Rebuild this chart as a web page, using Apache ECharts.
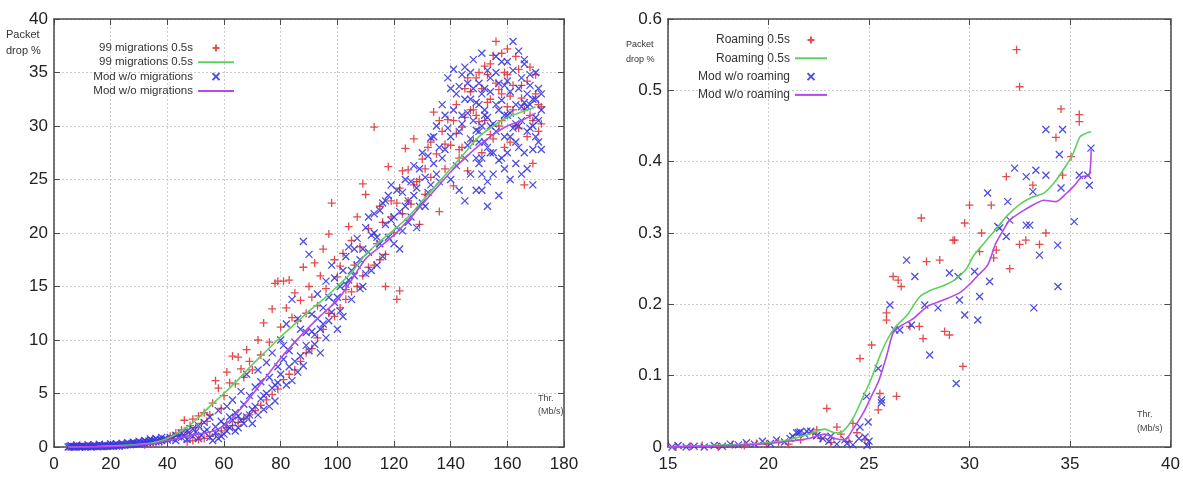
<!DOCTYPE html>
<html><head><meta charset="utf-8">
<script src="https://cdn.jsdelivr.net/npm/echarts/dist/echarts.min.js"></script>
<style>html,body{margin:0;padding:0;background:#fff}#c{width:1183px;height:481px}</style>
</head><body><div id="c"></div><script>
// ---------- Left panel data ----------
const leftXTicks = [0, 180, 20];
const leftYTicks = [0, 40, 5];
const leftRedPoints = [
[6,0.02],[8,0.05],[10,0.03],[12,0.08],[14,0.05],[16,0.1],[18,0.06],[20,0.12],[22,0.15],[24,0.1],[26,0.2],[28,0.25],[30,0.3],[32,0.22],[34,0.4],[36,0.35],[38,0.5],[40,0.7],[41,1.0],[42,0.8],[43,1.3],[44,1.1],[45,1.6],[46,2.5],[47,1.4],[48,2.0],[49,2.6],[50,1.8],[51,2.9],[52,2.2],[53,3.2],[54,2.4],[55,3.0],[56,4.1],[57,6.2],[58,5.5],[59,3.6],[60,4.8],[61,7.0],[62,6.0],[63,8.5],[64,5.9],[65,8.4],[66,7.3],[67,6.5],[68,9.1],[69,8.0],[70,7.2],[72,10.0],[73,8.6],[74,11.6],[76,9.8],[77,12.9],[78,15.3],[79,15.5],[80,11.2],[81,15.5],[82,13.0],[83,15.6],[84,12.1],[85,14.4],[86,11.8],[87,13.7],[88,16.8],[89,12.5],[90,15.0],[91,14.0],[92,17.2],[93,13.2],[94,16.0],[95,18.5],[96,14.8],[97,19.9],[98,22.8],[99,17.5],[100,15.9],[101,16.9],[102,18.1],[103,14.7],[104,20.6],[105,19.3],[106,17.0],[107,21.5],[108,18.7],[109,24.6],[110,23.6],[111,20.4],[113,29.9],[114,19.0],[115,22.5],[116,21.0],[117,15.0],[118,26.2],[119,23.0],[120,20.0],[121,13.8],[122,14.6],[122,24.2],[123,21.8],[124,27.9],[125,25.9],[126,22.7],[127,28.8],[128,24.8],[129,20.8],[130,26.9],[131,23.6],[132,28.0],[133,25.2],[134,31.3],[135,27.4],[136,22.0],[137,29.5],[138,26.0],[139,30.6],[140,28.2],[141,24.4],[142,32.0],[143,27.0],[144,29.9],[145,33.5],[146,25.8],[147,31.5],[148,28.6],[149,34.5],[150,30.4],[151,27.5],[152,35.6],[153,32.2],[154,29.2],[155,36.6],[156,37.9],[157,33.4],[158,30.5],[159,35.0],[160,31.8],[161,28.5],[162,33.8],[163,30.0],[164,35.3],[165,32.6],[166,24.5],[167,34.2],[168,31.0],[169,26.5],[170,33.0],[171,29.5],[172,31.8],
[141,30.5],[143,27.8],[145,30.8],[147,33.2],[149,31.0],[151,33.5],[152,30.5],[153,34.8],[154,32.5],[155,28.8],[156,34.0],[157,30.0],[158,33.0],[159,28.0],[160,34.8],[161,32.8],[162,31.5],[163,36.5],[164,29.8],[165,33.8],[166,31.5],[167,29.0],[168,35.5],[169,30.5],[170,34.8],[171,32.0],[172,30.2],[160,37.2],[158,36.8],[154,35.8],[150,35.0],[146,34.5],[148,31.5],[144,28.0],[142,29.3],[138,28.3],[136,30.5],[133,28.5],[131,26.0],[129,25.0],[127,24.5],[125,23.0],[123,25.8],[121,22.8],[119,21.5],[117,18.0],[115,17.5],[113,17.0],[111,16.8],[109,16.0],[107,15.0],[105,14.5],[103,13.8],[101,13.0],[99,12.2],[97,12.5],[95,11.0],[93,10.2],[91,9.2],[89,8.8],[87,8.0],[85,7.2],[83,6.8],[81,6.3],[79,5.4],[77,4.9],[75,4.4],[73,3.9],[71,3.4],[69,3.0],[67,2.6],[65,2.3],[63,2.0],[61,1.8],[59,1.5],[57,1.2],[55,1.0],[53,0.8],[51,0.7],[49,0.6],[47,0.5]
];
const leftGreenLine = [
[5,0],[15,0.05],[25,0.15],[35,0.4],[40,0.8],[45,1.5],[50,2.5],[55,3.8],[60,5.0],[65,6.3],[70,7.7],[75,9.0],[80,10.3],[85,11.5],[90,12.7],[95,13.8],[100,15.0],[105,16.3],[110,18.0],[115,19.2],[120,20.3],[125,21.5],[130,23.0],[135,24.5],[140,26.0],[145,27.5],[150,29.0],[155,30.0],[160,30.8],[165,31.3],[170,31.8]
];
const leftBluePoints = [
[5,0],[5.5,0.05],[6,0],[6.5,0.02],[7,0.05],[7.5,0],[8,0.03],[8.5,0.06],[9,0],[9.5,0.04],[10,0.02],[10.5,0.07],[11,0],[11.5,0.05],[12,0.03],[12.5,0.08],[13,0.02],[13.5,0.06],[14,0.04],[14.5,0.1],[15,0.05],[15.5,0.02],[16,0.08],[16.5,0.05],[17,0.1],[17.5,0.04],[18,0.12],[18.5,0.07],[19,0.1],[19.5,0.14],[20,0.06],[20.5,0.12],[21,0.09],[21.5,0.15],[22,0.1],[22.5,0.18],[23,0.12],[23.5,0.2],[24,0.15],[24.5,0.22],[25,0.18],[25.5,0.25],[26,0.2],[26.5,0.28],[27,0.22],[27.5,0.3],[28,0.26],[28.5,0.35],[29,0.3],[29.5,0.38],[30,0.28],[30.5,0.42],[31,0.35],[31.5,0.45],[32,0.38],[32.5,0.5],[33,0.42],[33.5,0.55],[34,0.45],[34.5,0.6],[35,0.5],[35.5,0.62],[36,0.48],[36.5,0.66],[37,0.55],[37.5,0.7],[38,0.6],[39,0.75],[40,0.65],[41,0.9],[42,0.8],[43,1.1],[44,0.95],[45,1.3],[46,1.0],[47,1.5],[48,1.2],[49,1.7],[50,1.4],[51,2.0],[52,1.1],[53,2.3],[54,1.6],[55,2.8],[56,0.6],[57,1.9],[58,3.4],[59,2.4],[60,2.1],[61,3.8],[62,2.8],[63,4.4],[64,3.2],[65,2.9],[66,5.2],[67,4.0],[68,6.8],[69,4.8],[70,3.5],[71,5.6],[72,7.2],[73,6.1],[74,4.8],[75,7.9],[76,6.5],[77,8.8],[78,5.8],[79,7.5],[80,10.0],[81,8.2],[82,11.5],[83,9.0],[84,13.8],[85,9.8],[86,12.0],[87,8.5],[88,19.2],[89,10.7],[90,18.0],[91,12.4],[92,9.6],[93,14.3],[94,11.0],[95,13.0],[96,15.5],[97,11.8],[98,17.0],[99,13.5],[100,14.0],[101,12.7],[102,16.5],[103,15.2],[104,18.7],[105,13.8],[106,16.0],[107,19.5],[108,17.5],[109,15.0],[110,20.5],[111,18.2],[112,16.5],[113,21.8],[114,19.6],[115,22.1],[116,17.8],[117,20.8],[118,23.5],[119,21.2],[120,19.0],[121,24.0],[122,22.0],[123,20.2],[124,25.0],[125,23.0],[126,21.5],[127,26.3],[128,24.2],[129,22.5],[130,27.5],[131,25.2],[132,23.8],[133,28.9],[134,26.5],[135,30.0],[136,24.8],[137,32.0],[138,27.8],[139,34.5],[140,29.0],[141,31.5],[142,26.3],[143,33.7],[144,30.2],[145,35.5],[146,28.2],[147,32.5],[148,36.2],[149,29.6],[150,34.0],[151,36.8],[152,31.0],[153,28.0],[154,33.2],[155,30.2],[156,35.0],[157,26.8],[158,32.4],[159,29.0],[160,34.2],[161,31.2],[162,37.9],[163,28.5],[164,33.5],[165,30.5],[166,35.8],[167,29.5],[168,32.0],[169,27.8],[170,30.8],[171,33.5],[172,31.5],
[140,25.0],[145,27.0],[148,30.5],[150,28.5],[152,33.5],[154,30.0],[155,27.5],[157,31.5],[159,33.8],[161,29.0],[163,32.0],[165,34.5],[167,31.8],[169,30.0],[171,28.5],[144,34.8],[146,31.2],[150,32.0],[153,35.2],[156,29.5],[158,27.0],[160,31.0],[162,29.8],[164,30.0],[166,32.2],[168,34.8],[170,29.0],[147,28.8],[143,29.5],[138,31.0],[136,28.0],[133,24.5],[130,22.8],[128,20.5],[126,24.8],[124,22.5],[122,18.5],[120,21.5],[118,19.6],[116,22.8],[114,17.0],[112,19.8],[110,16.2],[108,14.8],[106,18.5],[104,15.6],[102,12.2],[100,11.0],[98,12.6],[96,10.2],[94,8.8],[92,10.5],[90,9.0],[88,7.6],[86,7.0],[84,6.2],[82,5.8],[80,6.8],[78,4.3],[76,3.8],[74,3.5],[72,3.0],[70,2.2],[68,2.8],[66,2.5],[64,1.5],[62,1.8],[60,1.2],[58,0.8],
[151,24.0],[151,25.5],[151,27.0],[152,28.5],[151,30.0],[152,31.5],[151,33.0],[150,26.5],[150,29.5],[153,24.8],[153,30.8],[149,32.2],[154,27.5],[154,34.5],[149,27.0],[148,33.5],[147,35.0],[146,34.0],[145,32.5],[144,31.0],[142,33.0],[141,35.3],[140,33.5],[139,29.8],[137,27.0],[135,25.5],[134,29.0],[132,27.2],[131,22.5],[129,26.0],[127,23.5],[125,21.0],[123,23.8],[121,20.5],[119,24.5],[117,23.0],[115,19.0],[113,20.0],[111,21.5],[109,18.5],[107,17.0],[105,16.5],[103,17.8],[101,15.0],[99,15.8],[97,14.0],[95,11.5],[93,12.0],[91,10.8],[89,9.5],[87,11.0],[85,8.0],[83,7.5],[81,9.5],[79,6.0],[77,5.5],[75,5.0],[73,4.5],[71,3.8],[69,3.0],[67,2.2],[65,1.8],[63,2.5],[61,1.5],[59,1.0],[57,1.3],[55,0.9],[53,1.4],[51,0.8],[49,1.0],[47,0.7],[45,0.9],[43,0.6],[156,32.0],[157,34.0],[158,36.0],[159,31.0],[160,27.5],[161,33.2],[162,35.2],[163,30.2],[164,28.0],[165,31.8],[166,27.5],[167,33.0],[168,29.8],[169,32.5],[170,35.0],[171,30.5],[172,27.8],[155,25.5],[157,23.5],[159,26.0],[161,25.0],[163,26.5],[165,25.5],[167,26.0],[169,24.5],[143,24.0],[145,23.0],[147,25.5],[149,24.0],[153,22.5],[156,36.5],[160,36.0],[164,37.0],[166,36.2],[168,33.8],[170,32.5],[172,33.0],
[6,0.15],[8,0.2],[10,0.12],[12,0.22],[14,0.18],[16,0.25],[18,0.2],[20,0.3],[22,0.28],[24,0.35],[26,0.4],[28,0.45],[30,0.55],[32,0.6],[34,0.75],[36,0.8],[38,0.9]
];
const leftPurpleLine = [
[5,0],[15,0.02],[25,0.1],[35,0.3],[40,0.6],[45,0.9],[50,1.2],[55,1.4],[60,2.0],[65,3.3],[70,4.9],[75,6.6],[80,8.3],[85,9.8],[90,11.2],[95,12.5],[100,13.7],[105,15.6],[110,17.6],[115,18.7],[120,19.8],[125,21.2],[130,22.7],[135,24.2],[140,25.7],[145,27.0],[150,28.2],[155,29.2],[160,30.0],[165,30.5],[170,31.2]
];
const leftNames = ['99 migrations 0.5s', '99 migrations 0.5s\u200b', 'Mod w/o migrations', 'Mod w/o migrations\u200b'];

// ---------- Right panel data ----------
const rightXTicks = [15, 40, 5];
const rightYTicks = [0, 0.6, 0.1];
const rightRedPoints = [
[15.4,0],[16.1,0.001],[16.7,0.002],[17.5,0],[18.2,0.003],[18.8,0.002],[19.4,0.005],[19.9,0.004],[20.5,0.007],[21.0,0.004],[21.6,0.01],[22.2,0.02],[22.6,0.012],[23.1,0.006],[23.6,0.018],[24.0,0.008],[24.4,0.02],[24.8,0.01],
[22.9,0.054],[23.4,0.028],[22.4,0.024],[24.2,0.033],[25.54,0.075],[26.37,0.071],[25.46,0.052],[24.55,0.124],[25.13,0.143],[29.67,0.113],
[27.6,0.321],[30.0,0.339],[31.08,0.339],[29.76,0.314],[29.18,0.29],[27.86,0.26],[28.52,0.262],[26.2,0.239],[26.45,0.234],[26.6,0.225],[25.87,0.188],[25.87,0.178],[27.03,0.169],[27.5,0.169],[27.69,0.152],[28.76,0.162],[29.0,0.157],
[32.34,0.557],[32.49,0.505],[34.55,0.474],[35.46,0.466],[35.46,0.456],[34.3,0.434],[35.05,0.407],[34.63,0.381],[31.83,0.379],[33.15,0.367],[29.26,0.29],[33.8,0.3],[32.49,0.284],[33.48,0.284],[30.5,0.274],[31.33,0.276],[30.6,0.3],[31.2,0.265],[32.0,0.25],[32.8,0.29]
];
const rightGreenLine = [
[15,0],[16,0.001],[17,0.002],[18,0.003],[19,0.004],[20,0.006],[21,0.01],[22,0.018],[22.8,0.025],[23.3,0.02],[23.7,0.022],[24.2,0.04],[24.7,0.07],[25.1,0.095],[25.5,0.125],[25.9,0.15],[26.3,0.168],[26.9,0.185],[27.5,0.21],[28.1,0.22],[28.7,0.226],[29.3,0.235],[29.8,0.248],[30.2,0.268],[30.7,0.285],[31.3,0.305],[31.9,0.325],[32.5,0.34],[33.1,0.35],[33.7,0.356],[34.2,0.37],[34.7,0.39],[35.1,0.408],[35.5,0.435],[35.8,0.44],[36.05,0.442]
];
const rightBluePoints = [
[15.2,0],[15.5,0.002],[15.9,0],[16.3,0.001],[16.8,0],[17.3,0.002],[17.7,0.001],[18.1,0.004],[18.5,0.003],[18.9,0.006],[19.3,0.004],[19.7,0.008],[20.1,0.005],[20.4,0.01],[20.8,0.007],[21.2,0.015],[21.5,0.02],[21.8,0.018],[22.1,0.022],[22.4,0.016],[22.7,0.012],[23.0,0.008],[23.4,0.004],[23.8,0.01],[24.2,0.003],[24.5,0.012],[24.9,0.002],[25.0,0.008],
[21.57,0.021],[21.4,0.02],[21.9,0.022],[21.07,0.012],[22.4,0.016],[23.1,0.015],[23.9,0.005],[24.55,0.028],[24.96,0.035],[24.8,0.014],[24.88,0.071],[25.62,0.066],[25.62,0.062],[25.46,0.11],
[30.9,0.356],[31.5,0.307],[26.87,0.262],[27.28,0.239],[29.0,0.244],[29.43,0.239],[26.04,0.199],[27.77,0.199],[28.43,0.195],[26.28,0.164],[26.53,0.164],[27.11,0.171],[29.5,0.206],[29.76,0.185],[30.41,0.178],[30.5,0.211],[31.0,0.232],[30.25,0.246],[28.02,0.129],[29.34,0.089],
[33.8,0.445],[34.63,0.445],[34.47,0.41],[36.04,0.419],[32.24,0.391],[33.3,0.388],[32.82,0.379],[33.8,0.381],[35.46,0.381],[35.88,0.381],[35.96,0.367],[34.55,0.363],[33.15,0.358],[31.9,0.344],[35.21,0.316],[32.0,0.318],[31.41,0.309],[32.82,0.311],[33.0,0.311],[31.83,0.295],[34.39,0.283],[33.48,0.269],[34.4,0.225],[33.2,0.195]
];
const rightPurpleLine = [
[15,0],[16,0.001],[17,0.001],[18,0.002],[19,0.003],[20,0.005],[21,0.008],[22,0.012],[22.8,0.018],[23.3,0.012],[23.8,0.01],[24.2,0.025],[24.7,0.047],[25.1,0.07],[25.5,0.094],[25.9,0.13],[26.2,0.16],[26.6,0.17],[27.2,0.18],[27.9,0.197],[28.7,0.206],[29.5,0.216],[30.0,0.228],[30.4,0.24],[30.9,0.255],[31.3,0.285],[31.7,0.305],[32.0,0.318],[32.6,0.33],[33.2,0.34],[33.7,0.346],[34.3,0.344],[34.8,0.355],[35.2,0.366],[35.6,0.379],[35.95,0.381],[36.05,0.417]
];
const rightNames = ['Roaming 0.5s', 'Roaming 0.5s\u200b', 'Mod w/o roaming', 'Mod w/o roaming\u200b'];

// ---------- styles ----------
const RED = '#e0383c', BLUE = '#3a3ae0', GREEN = '#5fd060', PURPLE = '#b44ae8';
const PLUS = 'path://M0,5L10,5M5,0L5,10';
const CROSS = 'path://M0,0L10,10M10,0L0,10';
const FONT = 'Liberation Sans';

function xAxis(grid, t, pos, main) {
  return {
    type: 'value', gridIndex: grid, position: pos, min: t[0], max: t[1], interval: t[2],
    axisLine: {show: true, onZero: false, lineStyle: {color: '#4a4a4a', width: 1.5}},
    axisTick: {show: true, inside: true, length: 6, lineStyle: {color: '#4a4a4a'}},
    axisLabel: {show: main, fontSize: 17, color: '#222', fontFamily: FONT, margin: 9},
    splitLine: {show: main, lineStyle: {color: '#cccccc', type: [2, 2]}}
  };
}
function yAxis(grid, t, pos, main) {
  return {
    type: 'value', gridIndex: grid, position: pos, min: t[0], max: t[1], interval: t[2],
    axisLine: {show: true, onZero: false, lineStyle: {color: '#4a4a4a', width: 1.5}},
    axisTick: {show: true, inside: true, length: 6, lineStyle: {color: '#4a4a4a'}},
    axisLabel: {show: main, fontSize: 17, color: '#222', fontFamily: FONT, margin: 6},
    splitLine: {show: main, lineStyle: {color: '#cccccc', type: [2, 2]}}
  };
}
function scatter(name, data, sym, color, ax, size) {
  return {
    name, type: 'scatter', data, symbol: sym, symbolSize: size, xAxisIndex: ax, yAxisIndex: ax,
    itemStyle: {color: 'rgba(0,0,0,0)', borderColor: color, borderWidth: 1.3, opacity: 0.9},
    emphasis: {disabled: true}
  };
}
function line(name, data, color, ax) {
  return {
    name, type: 'line', data, xAxisIndex: ax, yAxisIndex: ax, symbol: 'none', showSymbol: false,
    smooth: 0.25, lineStyle: {color, width: 1.6}, itemStyle: {color}, emphasis: {disabled: true}
  };
}
function legendData(names) {
  const hide = {color: 'rgba(0,0,0,0)', borderWidth: 0, borderColor: 'rgba(0,0,0,0)'};
  return [
    {name: names[0]},
    {name: names[1], itemStyle: hide},
    {name: names[2]},
    {name: names[3], itemStyle: hide}
  ];
}

const chart = echarts.init(document.getElementById('c'), null, {renderer: 'canvas'});
chart.setOption({
  animation: false,
  backgroundColor: '#fff',
  grid: [
    {left: 54, top: 19, width: 510, height: 428},
    {left: 668, top: 19, width: 503, height: 428}
  ],
  xAxis: [
    xAxis(0, leftXTicks, 'bottom', true), xAxis(0, leftXTicks, 'top', false),
    xAxis(1, rightXTicks, 'bottom', true), xAxis(1, rightXTicks, 'top', false)
  ],
  yAxis: [
    yAxis(0, leftYTicks, 'left', true), yAxis(0, leftYTicks, 'right', false),
    yAxis(1, rightYTicks, 'left', true), yAxis(1, rightYTicks, 'right', false)
  ],
  legend: [
    {
      orient: 'vertical', left: 76, top: 37, align: 'right', selectedMode: false,
      itemWidth: 36, itemHeight: 7, itemGap: 2.3,
      textStyle: {fontSize: 11.5, fontFamily: FONT, color: '#333', width: 112, align: 'right', lineHeight: 12},
      data: legendData(leftNames)
    },
    {
      orient: 'vertical', left: 680, top: 28, align: 'right', selectedMode: false,
      itemWidth: 32, itemHeight: 7, itemGap: 4.3,
      textStyle: {fontSize: 12, fontFamily: FONT, color: '#333', width: 105, align: 'right', lineHeight: 14},
      data: legendData(rightNames)
    }
  ],
  series: [
    scatter(leftNames[0], leftRedPoints, PLUS, RED, 0, 8),
    line(leftNames[1], leftGreenLine, GREEN, 0),
    scatter(leftNames[2], leftBluePoints, CROSS, BLUE, 0, 7),
    line(leftNames[3], leftPurpleLine, PURPLE, 0),
    scatter(rightNames[0], rightRedPoints, PLUS, RED, 2, 8),
    line(rightNames[1], rightGreenLine, GREEN, 2),
    scatter(rightNames[2], rightBluePoints, CROSS, BLUE, 2, 7),
    line(rightNames[3], rightPurpleLine, PURPLE, 2)
  ],
  graphic: [
    {type: 'text', left: 6, top: 27, style: {text: 'Packet\ndrop %', font: '11px ' + FONT, fill: '#333', lineHeight: 16}},
    {type: 'text', left: 626, top: 37, style: {text: 'Packet\ndrop %', font: '9px ' + FONT, fill: '#333', lineHeight: 15}},
    {type: 'text', left: 538, top: 392, style: {text: 'Thr.\n(Mb/s)', font: '9px ' + FONT, fill: '#444', lineHeight: 13, align: 'center'}},
    {type: 'text', left: 1137, top: 408, style: {text: 'Thr.\n(Mb/s)', font: '9px ' + FONT, fill: '#444', lineHeight: 14, align: 'center'}}
  ]
});
</script></body></html>
